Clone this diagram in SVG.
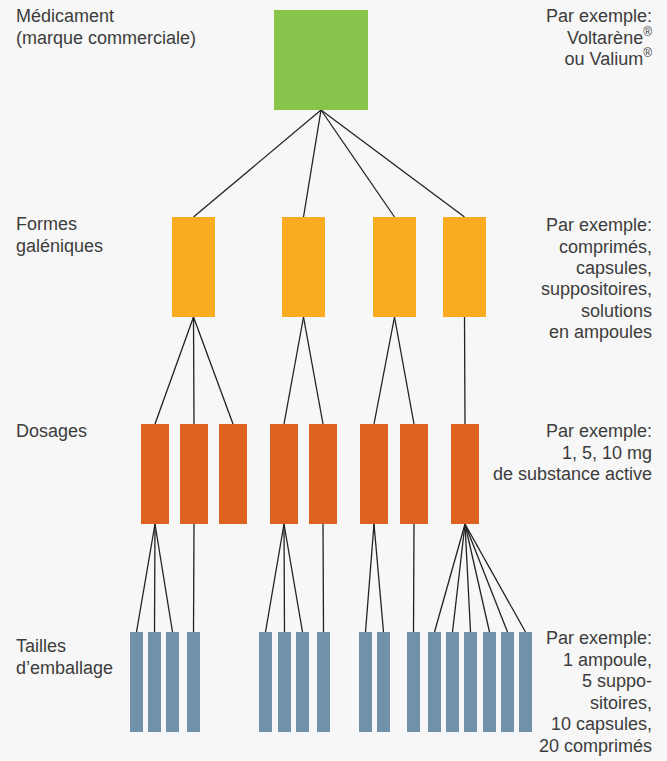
<svg xmlns="http://www.w3.org/2000/svg" width="667" height="761" viewBox="0 0 667 761">
<style>
.t{font-family:"Liberation Sans",Arial,sans-serif;font-size:18px;fill:#3c3c3c}
.r{text-anchor:end}
.sup{font-size:12px}
.g{fill:#86c44b}
.o{fill:#f9ac1f}
.d{fill:#dd611f}
.b{fill:#6f91aa}
.c line{stroke:#222;stroke-width:1.3}
</style>
<rect width="667" height="761" fill="#f7f7f7"/>
<g class="c" id="connectors">
<line x1="321" y1="110" x2="193.5" y2="217"/>
<line x1="321" y1="110" x2="303.5" y2="217"/>
<line x1="321" y1="110" x2="394.5" y2="217"/>
<line x1="321" y1="110" x2="464.5" y2="217"/>
<line x1="193.5" y1="317" x2="155" y2="424"/>
<line x1="193.5" y1="317" x2="194" y2="424"/>
<line x1="193.5" y1="317" x2="233" y2="424"/>
<line x1="303.5" y1="317" x2="284" y2="424"/>
<line x1="303.5" y1="317" x2="323" y2="424"/>
<line x1="394.5" y1="317" x2="374" y2="424"/>
<line x1="394.5" y1="317" x2="414" y2="424"/>
<line x1="464.5" y1="317" x2="465" y2="424"/>
<line x1="155" y1="524" x2="136.5" y2="632"/>
<line x1="155" y1="524" x2="154.5" y2="632"/>
<line x1="155" y1="524" x2="172.5" y2="632"/>
<line x1="194" y1="524" x2="193.5" y2="632"/>
<line x1="284" y1="524" x2="265.5" y2="632"/>
<line x1="284" y1="524" x2="284.5" y2="632"/>
<line x1="284" y1="524" x2="302.5" y2="632"/>
<line x1="323" y1="524" x2="323.5" y2="632"/>
<line x1="374" y1="524" x2="365.5" y2="632"/>
<line x1="374" y1="524" x2="383.5" y2="632"/>
<line x1="414" y1="524" x2="413.5" y2="632"/>
<line x1="465" y1="524" x2="434.5" y2="632"/>
<line x1="465" y1="524" x2="452.5" y2="632"/>
<line x1="465" y1="524" x2="470.5" y2="632"/>
<line x1="465" y1="524" x2="489.5" y2="632"/>
<line x1="465" y1="524" x2="507.5" y2="632"/>
<line x1="465" y1="524" x2="525.5" y2="632"/>
</g>
<g id="medicament"><rect class="g" x="274" y="10" width="94" height="100"/></g>
<g id="forme1"><rect class="o" x="172" y="217" width="43" height="100"/></g>
<g id="forme2"><rect class="o" x="282" y="217" width="43" height="100"/></g>
<g id="forme3"><rect class="o" x="373" y="217" width="43" height="100"/></g>
<g id="forme4"><rect class="o" x="443" y="217" width="43" height="100"/></g>
<g id="dosage1"><rect class="d" x="141" y="424" width="28" height="100"/></g>
<g id="dosage2"><rect class="d" x="180" y="424" width="28" height="100"/></g>
<g id="dosage3"><rect class="d" x="219" y="424" width="28" height="100"/></g>
<g id="dosage4"><rect class="d" x="270" y="424" width="28" height="100"/></g>
<g id="dosage5"><rect class="d" x="309" y="424" width="28" height="100"/></g>
<g id="dosage6"><rect class="d" x="360" y="424" width="28" height="100"/></g>
<g id="dosage7"><rect class="d" x="400" y="424" width="28" height="100"/></g>
<g id="dosage8"><rect class="d" x="451" y="424" width="28" height="100"/></g>
<g id="pack1"><rect class="b" x="130" y="632" width="13" height="100"/></g>
<g id="pack2"><rect class="b" x="148" y="632" width="13" height="100"/></g>
<g id="pack3"><rect class="b" x="166" y="632" width="13" height="100"/></g>
<g id="pack4"><rect class="b" x="187" y="632" width="13" height="100"/></g>
<g id="pack5"><rect class="b" x="259" y="632" width="13" height="100"/></g>
<g id="pack6"><rect class="b" x="278" y="632" width="13" height="100"/></g>
<g id="pack7"><rect class="b" x="296" y="632" width="13" height="100"/></g>
<g id="pack8"><rect class="b" x="317" y="632" width="13" height="100"/></g>
<g id="pack9"><rect class="b" x="359" y="632" width="13" height="100"/></g>
<g id="pack10"><rect class="b" x="377" y="632" width="13" height="100"/></g>
<g id="pack11"><rect class="b" x="407" y="632" width="13" height="100"/></g>
<g id="pack12"><rect class="b" x="428" y="632" width="13" height="100"/></g>
<g id="pack13"><rect class="b" x="446" y="632" width="13" height="100"/></g>
<g id="pack14"><rect class="b" x="464" y="632" width="13" height="100"/></g>
<g id="pack15"><rect class="b" x="483" y="632" width="13" height="100"/></g>
<g id="pack16"><rect class="b" x="501" y="632" width="13" height="100"/></g>
<g id="pack17"><rect class="b" x="519" y="632" width="13" height="100"/></g>
<g id="labels-left" class="t">
<text x="16" y="22">Médicament</text>
<text x="16" y="44">(marque commerciale)</text>
<text x="16" y="230">Formes</text>
<text x="16" y="251.5">galéniques</text>
<text x="16" y="437">Dosages</text>
<text x="16" y="652">Tailles</text>
<text x="16" y="673.5">d’emballage</text>
</g>
<g id="labels-right" class="t r">
<text x="652" y="22">Par exemple:</text>
<text x="652" y="43.5">Voltarène<tspan class="sup" dy="-8">®</tspan></text>
<text x="652" y="65">ou Valium<tspan class="sup" dy="-8">®</tspan></text>
<text x="652" y="231">Par exemple:</text>
<text x="652" y="252.5">comprimés,</text>
<text x="652" y="273.5">capsules,</text>
<text x="652" y="295">suppositoires,</text>
<text x="652" y="316.5">solutions</text>
<text x="652" y="337.5">en ampoules</text>
<text x="652" y="437">Par exemple:</text>
<text x="652" y="458.5">1, 5, 10 mg</text>
<text x="652" y="480">de substance active</text>
<text x="652" y="644">Par exemple:</text>
<text x="652" y="665.5">1 ampoule,</text>
<text x="652" y="687">5 suppo-</text>
<text x="652" y="708.5">sitoires,</text>
<text x="652" y="730">10 capsules,</text>
<text x="652" y="751.5">20 comprimés</text>
</g>
</svg>
